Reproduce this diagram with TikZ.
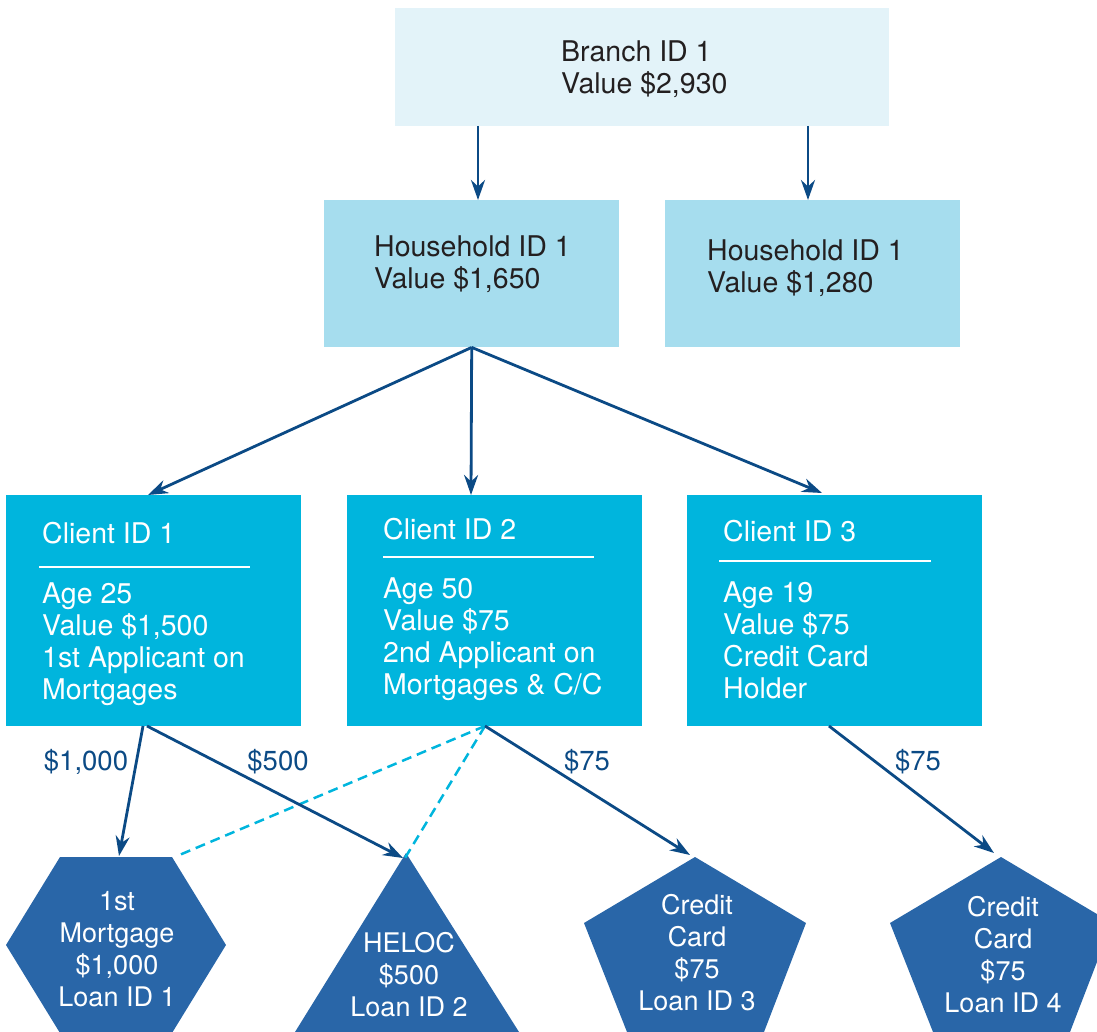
\documentclass[tikz,border=0pt]{standalone}
\usepackage{fontspec}
\setmainfont{TeX Gyre Heros}
\usetikzlibrary{arrows.meta}
\definecolor{branchfill}{HTML}{E3F3F9}
\definecolor{housefill}{HTML}{A6DDEE}
\definecolor{clientfill}{HTML}{00B5DD}
\definecolor{loanfill}{HTML}{2966A8}
\definecolor{arrowblue}{HTML}{0B4A85}
\definecolor{darktext}{HTML}{231F20}
\begin{document}
\begin{tikzpicture}
[x=1pt,y=-1pt,
  boxDecorate/.style={shape=rectangle,anchor=north west,inner sep=0pt,draw=none},
  textDecorate/.style={anchor=base west,align=left,inner sep=0pt,font=\fontsize{28.5}{32}\selectfont},
  loanDecorate/.style={anchor=base,align=center,inner sep=0pt,text=white,font=\fontsize{27}{32}\selectfont},
  labelDecorate/.style={anchor=base,inner sep=0pt,text=arrowblue,font=\fontsize{27.5}{32}\selectfont},
  lineDecorate/.style={-{Stealth[length=20pt,width=14pt]},line width=2.8pt,draw=arrowblue},
  dashDecorate/.style={-,dash pattern=on 10pt off 6pt,line width=2.5pt,draw=clientfill},
  ruleDecorate/.style={line width=2.8pt,draw=white},
  scale=1]
\useasboundingbox (0,0) rectangle (1097,1032);
\clip (0,0) rectangle (1097,1032);
%% boxes
\foreach \nodename/\x/\y/\w/\h/\col in {
  branch/395/8/494/118/branchfill,
  house1/324/200/295/147/housefill, house2/665/200/295/147/housefill,
  client1/6/495/295/231/clientfill, client2/347/495/295/231/clientfill,
  client3/687/495/295/231/clientfill}
{
  \node (\nodename) at (\x,\y) [boxDecorate,fill=\col,minimum width=\w pt,minimum height=\h pt] {};
}
%% texts in the boxes (y is the baseline of the last line)
\foreach \nodename/\x/\y/\col/\txt in {
  branchtext/561/94/darktext/{Branch ID 1\\Value \$2,930},
  house1text/374/288/darktext/{Household ID 1\\Value \$1,650},
  house2text/707/292/darktext/{Household ID 1\\Value \$1,280},
  client1title/42/543/white/{Client ID 1},
  client1text/42/699/white/{Age 25\\Value \$1,500\\1st Applicant on\\Mortgages},
  client2title/383/539/white/{Client ID 2},
  client2text/383/694/white/{Age 50\\Value \$75\\2nd Applicant on\\Mortgages \& C/C},
  client3title/723/541/white/{Client ID 3},
  client3text/723/698/white/{Age 19\\Value \$75\\Credit Card\\Holder}}
{
  \node (\nodename) at (\x,\y) [textDecorate,text=\col] {\txt};
}
%% rules under the client titles
\foreach \xa/\xb/\y in {39/250/567, 383/594/557, 719/931/561}
  \draw[ruleDecorate] (\xa,\y) -- (\xb,\y);
%% loan shapes
\fill[loanfill] (60,857) -- (172,857) -- (226,945) -- (172,1033) -- (60,1033) -- (6,945) -- cycle;
\fill[loanfill] (406,853) -- (519,1032) -- (295,1032) -- cycle;
\foreach \dx in {0,306}
  \fill[loanfill,xshift=\dx] (695,857) -- (806,923) -- (764,1032) -- (627,1032) -- (584,923) -- cycle;
\foreach \nodename/\x/\y/\txt in {
  loan1/117/1006/{1st\\Mortgage\\\$1,000\\Loan ID 1},
  loan2/409/1016/{HELOC\\\$500\\Loan ID 2},
  loan3/697/1010/{Credit\\Card\\\$75\\Loan ID 3},
  loan4/1003/1012/{Credit\\Card\\\$75\\Loan ID 4}}
{
  \node (\nodename) at (\x,\y) [loanDecorate] {\txt};
}
%% ports
\foreach \nodename/\x/\y in {
  b1/478/126, b2/808/126, h1in/478/200, h2in/808/200,
  c1in/148/495, c2in/471/495, c3in/822/493,
  c1outa/143/726, c1outb/147/726, c2out/485/726, c3out/829/726,
  l1in/119/856, l2in/403/858, l3in/690/855, l4in/994/853,
  l1corner/177/856, l2apex/405/858}
{
  \coordinate (\nodename) at (\x,\y);
}
%% edges or lines
\path
\foreach \startnode/\endnode in {c2out/l1corner, c2out/l2apex}
{
  (\startnode) edge[dashDecorate] (\endnode)
};
\path
\foreach \startnode/\endnode in {
  b1/h1in, b2/h2in, house1.south/c1in, house1.south/c2in, house1.south/c3in,
  c1outa/l1in, c1outb/l2in, c2out/l3in, c3out/l4in}
{
  (\startnode) edge[lineDecorate] (\endnode)
};
%% amounts
\foreach \nodename/\x/\txt in {lab1/86/{\$1,000}, lab2/278/{\$500}, lab3/587/{\$75}, lab4/918/{\$75}}
{
  \node (\nodename) at (\x,770) [labelDecorate] {\txt};
}
\end{tikzpicture}
\end{document}
